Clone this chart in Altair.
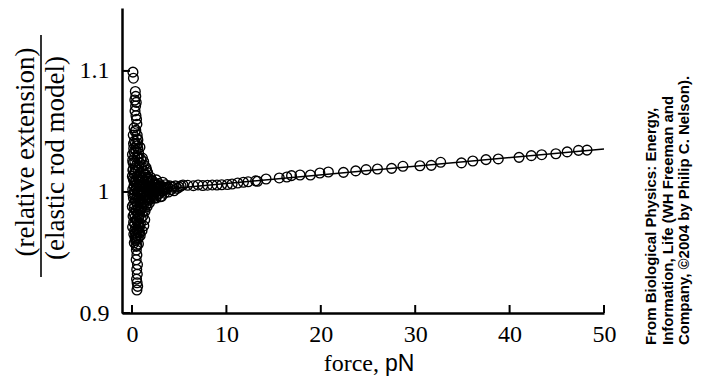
import altair as alt
import pandas as pd

# ---- data ----
# dense low-force cluster (force in pN, ratio)
CLUSTER_FORCE = [
    0.10, 0.15, 0.35, 0.40, 0.30, 0.45, 0.38, 0.32, 0.42, 0.48, 0.52, 0.40, 0.55, 0.62, 0.35,
    0.50, 0.46, 0.52, 0.44, 0.58, 0.50, 0.56, 0.48, 0.54, 0.60, 0.52,
    0.05, 0.12, 0.18, 0.22, 0.28, 0.33, 0.08, 0.15, 0.25, 0.31, 0.06, 0.19, 0.37, 0.42, 0.47,
    0.53, 0.58, 0.64, 0.70, 0.75, 0.81, 0.88, 0.93, 0.44, 0.51, 0.57, 0.63, 0.69, 0.74, 0.40,
    0.46, 0.55, 0.61, 0.67, 0.78, 0.85, 0.91, 0.97, 0.80, 0.72, 0.95, 0.99, 0.26, 0.36, 0.13,
    0.21, 0.03, 0.11, 0.29, 0.38, 0.59, 0.66, 0.77, 0.84, 0.09, 0.17, 0.24, 0.49, 0.43, 0.68,
    0.87, 0.34,
    1.02, 1.08, 1.12, 1.18, 1.05, 1.15, 1.22, 1.28, 1.33, 1.26, 1.38, 1.42, 1.47, 1.52, 1.45,
    1.58, 1.63, 1.68, 1.72, 1.78, 1.83, 1.88, 1.94, 1.98, 1.10, 1.30, 1.55, 1.35, 1.60, 1.85,
    1.25, 1.06,
    2.05, 2.12, 2.20, 2.28, 2.35, 2.42, 2.50, 2.58, 2.66, 2.74, 2.82, 2.90, 3.00, 3.08, 3.15,
    3.25, 3.35, 3.45, 3.55, 3.70, 3.85, 4.00, 4.15, 4.30, 4.45, 4.60, 4.80, 5.00, 5.20,
    0.07, 0.14, 0.20, 0.27, 0.32, 0.39, 0.45, 0.50, 0.56, 0.62, 0.68, 0.73, 0.79, 0.86, 0.92,
    0.98, 0.16, 0.23, 0.30, 0.36, 0.41, 0.47, 0.54, 0.60, 0.65, 0.71, 0.76, 0.83, 0.04, 0.10,
    0.18, 0.24, 0.29, 0.35, 0.41, 0.57, 0.63, 0.69, 0.75, 0.82, 0.89, 0.96, 1.03, 1.09, 1.14,
    1.20, 1.24, 1.31, 1.36, 1.40, 1.49, 1.54, 1.61, 1.66, 1.70, 1.76, 1.81, 1.87, 1.92, 1.97,
    2.08, 2.16, 2.24, 2.32, 2.40, 2.47, 2.55, 2.63, 2.71, 2.86, 2.95, 3.05, 3.20, 3.40, 3.60,
    3.80, 0.13, 0.22, 0.46, 0.33, 0.27, 0.58,
]
CLUSTER_RATIO = [
    1.099, 1.094, 1.083, 1.079, 1.076, 1.074, 1.071, 1.067, 1.063, 1.060, 1.056, 1.051, 1.047, 1.043, 1.040,
    0.956, 0.952, 0.948, 0.944, 0.940, 0.936, 0.932, 0.928, 0.925, 0.922, 0.919,
    1.031, 1.024, 1.036, 1.015, 1.029, 1.008, 1.002, 0.995, 0.987, 0.979, 0.971, 0.965, 0.960, 1.034, 1.022,
    1.013, 1.028, 1.018, 1.032, 1.010, 1.024, 1.016, 1.027, 1.003, 0.996, 0.989, 0.981, 0.974, 0.967, 0.992,
    0.984, 0.976, 0.969, 0.962, 0.999, 0.992, 0.985, 0.978, 0.971, 1.005, 1.008, 1.001, 1.042, 1.020, 1.011,
    1.005, 0.988, 0.980, 0.998, 0.970, 1.040, 1.000, 0.985, 1.037, 1.018, 0.975, 0.958, 1.038, 0.964, 0.957,
    0.964, 1.050,
    1.021, 1.012, 1.004, 0.995, 0.987, 0.980, 1.017, 1.008, 0.999, 0.990, 0.984, 1.014, 1.005, 0.996, 0.989,
    1.011, 1.002, 0.994, 1.009, 1.001, 0.996, 1.007, 1.000, 1.012, 1.028, 1.022, 1.018, 0.977, 0.988, 0.991,
    0.972, 0.968,
    1.004, 0.997, 1.009, 1.002, 0.995, 1.006, 1.000, 1.010, 1.003, 0.998, 1.007, 1.001, 0.996, 1.005, 0.9965,
    1.008, 1.002, 0.999, 1.006, 1.003, 1.000, 1.005, 1.002, 1.004, 1.001, 1.005, 1.003, 1.004, 1.005,
    1.026, 1.019, 1.009, 1.001, 0.993, 0.985, 0.977, 0.969, 0.961, 1.036, 1.029, 1.021, 1.013, 1.005, 0.997,
    0.990, 1.040, 1.033, 1.025, 1.017, 1.010, 1.006, 1.000, 0.993, 0.986, 0.979, 0.972, 0.966, 1.013, 0.998,
    0.990, 0.982, 0.974, 0.966, 0.961, 1.044, 1.011, 1.006, 0.995, 0.981, 0.974, 0.994, 1.010, 0.999, 0.991,
    0.984, 1.025, 1.014, 1.003, 0.993, 1.020, 1.008, 0.998, 1.016, 1.004, 0.993, 1.011, 1.003, 0.994, 1.006,
    1.009, 1.001, 0.996, 1.007, 0.999, 1.004, 0.995, 1.006, 1.001, 1.004, 0.999, 1.003, 1.001, 1.004, 1.002,
    1.004, 1.047, 1.053, 0.955, 0.962, 0.968, 0.967,
]
# higher-force points along the fit line
TRACE_FORCE = [
    5.4, 5.9, 6.5, 7.0, 7.5, 8.0, 8.5, 9.0, 9.5, 10.1, 10.6, 11.2, 11.8, 12.3, 13.1, 13.3,
    14.2, 15.6, 16.4, 16.9, 17.8, 18.9, 19.9, 20.8, 22.4, 23.7, 24.8, 26.0, 27.5, 28.7,
    30.5, 31.7, 32.7, 34.9, 36.1, 37.5, 38.8, 41.0, 42.3, 43.4, 44.9, 46.1, 47.3, 48.2,
]
TRACE_RATIO = [
    1.0058, 1.0055, 1.0052, 1.0058, 1.0053, 1.0056, 1.0058, 1.0057, 1.0060, 1.0062, 1.0066,
    1.0074, 1.0080, 1.0084, 1.0092, 1.0088, 1.0107, 1.0116, 1.0124, 1.0135, 1.0140, 1.0140,
    1.0157, 1.0165, 1.0162, 1.0174, 1.0185, 1.0190, 1.0195, 1.0212, 1.0217, 1.0220, 1.0245,
    1.0240, 1.0256, 1.0267, 1.0273, 1.0286, 1.0300, 1.0308, 1.0316, 1.0331, 1.0344, 1.0346,
]
FIT_FORCE = [0.0, 50.0]
FIT_RATIO = [0.9998, 1.0355]
X_TICKS = [0, 10, 20, 30, 40, 50]
Y_TICKS = [0.9, 1.0, 1.1]
Y_TITLE_NUM = "(relative extension)"
Y_TITLE_DEN = "(elastic rod model)"
X_TITLE_SERIF = "force,"
X_TITLE_SANS = "pN"
CREDIT = [
    "From Biological Physics: Energy,",
    "Information, Life (WH Freeman and",
    "Company, \u00a92004 by Philip C. Nelson).",
]

W, H = 482, 305
SERIF = "Liberation Serif"

pts = pd.DataFrame({"f": CLUSTER_FORCE + TRACE_FORCE, "r": CLUSTER_RATIO + TRACE_RATIO})
fit = pd.DataFrame({"f": FIT_FORCE, "r": FIT_RATIO})
xt = pd.DataFrame({"f": X_TICKS})
yt = pd.DataFrame({"r": Y_TICKS})

xscale = alt.Scale(domain=[-1.06, 50], nice=False, zero=False)
yscale = alt.Scale(domain=[0.9, 1.152], nice=False, zero=False)

axis_common = dict(grid=False, ticks=False, domainColor="black", domainWidth=2.5,
                   labelFont=SERIF, labelFontSize=24, labelColor="black",
                   labelFlush=False, labelOverlap=False, title="")

X_ENC = alt.X("f:Q", scale=xscale, title="",
              axis=alt.Axis(values=X_TICKS, format="d", labelPadding=9, **axis_common))
Y_ENC = alt.Y("r:Q", scale=yscale, title="",
              axis=alt.Axis(values=Y_TICKS, format="~g", labelPadding=13, **axis_common))

points = alt.Chart(pts).mark_point(
    shape="circle", filled=False, color="black", size=95, strokeWidth=1.35, opacity=1
).encode(x=X_ENC, y=Y_ENC)

line = alt.Chart(fit).mark_line(color="black", strokeWidth=1.5).encode(x=X_ENC, y=Y_ENC)

xticks = alt.Chart(xt).mark_rule(color="black", strokeWidth=2).encode(
    x=X_ENC, y=alt.value(H), y2=alt.value(H - 8),
)
yticks = alt.Chart(yt).mark_rule(color="black", strokeWidth=2).encode(
    y=Y_ENC, x=alt.value(0), x2=alt.value(8),
)

def label(txt, x, y, **kw):
    return alt.Chart(pd.DataFrame({"t": [txt]})).mark_text(color="black", **kw).encode(
        text="t:N", x=alt.value(x), y=alt.value(y)
    )

num = label(Y_TITLE_NUM, -96, 144, angle=270, align="center", baseline="middle", font=SERIF, fontSize=27)
den = label(Y_TITLE_DEN, -66, 150, angle=270, align="center", baseline="middle", font=SERIF, fontSize=27)
bar = alt.Chart(pd.DataFrame({"a": [0]})).mark_rule(color="black", strokeWidth=1.6).encode(
    x=alt.value(-81), y=alt.value(27), y2=alt.value(269)
)
xt1 = label(X_TITLE_SERIF, 257, 363, align="right", baseline="alphabetic", font=SERIF, fontSize=24)
xt2 = label(X_TITLE_SANS, 263, 363, align="left", baseline="alphabetic", font="Liberation Sans", fontSize=23)

credits = [
    label(t, 529 + 16.5 * i, 337, angle=270, align="left", baseline="middle",
          font="Liberation Sans", fontWeight="bold", fontSize=15)
    for i, t in enumerate(CREDIT)
]

chart = alt.layer(points, line, xticks, yticks, num, den, bar, xt1, xt2, *credits).properties(
    width=W, height=H,
    autosize=alt.AutoSizeParams(type="none"),
    padding={"left": 114, "top": 0, "right": 90, "bottom": 66},
).configure_view(stroke=None)

chart.save("out.html", embed_options={"renderer": "svg", "actions": False})
